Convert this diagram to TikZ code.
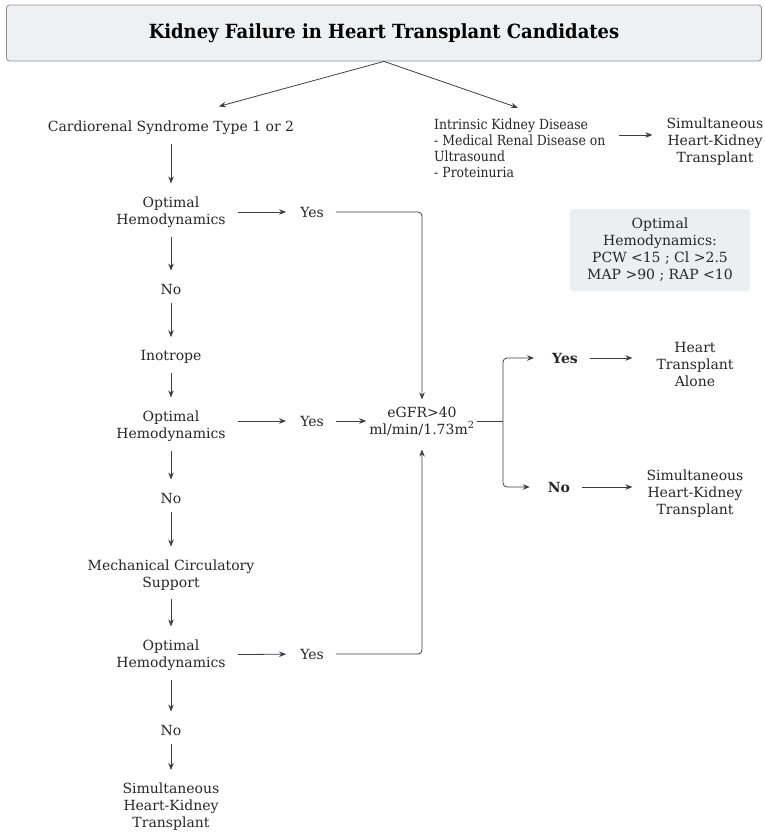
\documentclass[tikz,border=0pt]{standalone}
\usepackage{fontspec}
\setmainfont{DejaVu Serif}
\newfontfamily\headfont[FakeStretch=0.92]{DejaVu Serif}
\newfontfamily\narrowfont[FakeStretch=0.89]{DejaVu Serif}
\usetikzlibrary{arrows.meta}
\definecolor{inkgray}{HTML}{3A3F46}
\definecolor{titlefill}{HTML}{EEF1F3}
\definecolor{titleline}{HTML}{8C9096}
\definecolor{notefill}{HTML}{ECEFF1}

\begin{document}
\begin{tikzpicture}[x=1pt,y=-1pt,
  txt/.style={align=center,inner xsep=12pt,inner ysep=5pt,text=black!85,
    font=\fontsize{14}{17}\selectfont},
  bold/.style={txt,font=\bfseries\fontsize{14}{17}\selectfont},
  flow/.style={-{Stealth[length=7pt,width=5.5pt]},inkgray,line width=0.8pt,
    shorten >=2pt},
  down/.style={flow,shorten <=4pt,shorten >=8pt},
  plain/.style={inkgray,line width=0.8pt}]
\useasboundingbox (0,0) rectangle (765,838);

% heading
\node[draw=titleline,fill=titlefill,rounded corners=3pt,line width=0.8pt,
  minimum width=755pt,minimum height=56pt,
  font=\headfont\bfseries\fontsize{19.5}{22}\selectfont] (title) at (384,33)
  {Kidney Failure in Heart Transplant Candidates};

% left column
\node[txt] (cardio) at (171,128) {Cardiorenal Syndrome Type 1 or 2};
\node[txt] (opt1) at (171,212) {Optimal\\Hemodynamics};
\node[txt] (no1) at (171,289) {No};
\node[txt] (ino) at (171,357) {Inotrope};
\node[txt] (opt2) at (171,426) {Optimal\\Hemodynamics};
\node[txt] (no2) at (171,498) {No};
\node[txt] (mcs) at (171,575) {Mechanical Circulatory\\Support};
\node[txt] (opt3) at (171,655) {Optimal\\Hemodynamics};
\node[txt] (no3) at (171,730) {No};
\node[txt] (shk1) at (171,807) {Simultaneous\\Heart-Kidney\\Transplant};

% yes answers
\node[txt] (yes1) at (312,212) {Yes};
\node[txt] (yes2) at (312,421) {Yes};
\node[txt] (yes3) at (312,654) {Yes};

% kidney function
\node[txt] (egfr) at (422,421) {eGFR>40\\ml/min/1.73m\textsuperscript{2}};
\coordinate (fork) at (503,421);
\node[bold] (yesR) at (565,358) {Yes};
\node[bold] (noR) at (559,487) {No};
\node[txt] (hta) at (695,364) {Heart\\Transplant\\Alone};
\node[txt] (shk2) at (695,494) {Simultaneous\\Heart-Kidney\\Transplant};

% intrinsic branch
\node[txt,align=left,anchor=west,inner xsep=0pt,
  font=\narrowfont\fontsize{14}{16}\selectfont] (intr) at (434,148)
  {Intrinsic Kidney Disease\\- Medical Renal Disease on\\Ultrasound\\- Proteinuria};
\node[txt] (shk3) at (715,142) {Simultaneous\\Heart-Kidney\\Transplant};

% criteria note
\node[fill=notefill,rounded corners=3pt,minimum width=180pt,minimum height=82pt,
  align=center,text=black!85,font=\fontsize{14}{17}\selectfont] (note) at (660,250)
  {Optimal\\Hemodynamics:\\PCW <15 ; Cl >2.5\\MAP >90 ; RAP <10};

% connectors
\draw[flow] (title.south) -- ([xshift=46pt,yshift=9pt]cardio.north);
\draw[flow] (title.south) -- ([yshift=5pt]intr.north);
\draw[flow] ([xshift=13pt,yshift=13pt]intr.east) -- ([yshift=7pt]shk3.west);
\draw[down] (cardio) -- (opt1);
\draw[down] (opt1) -- (no1);
\draw[down] (no1) -- (ino);
\draw[down] (ino) -- (opt2);
\draw[down] (opt2) -- (no2);
\draw[down] (no2) -- (mcs);
\draw[down] (mcs) -- (opt3);
\draw[down] (opt3) -- (no3);
\draw[down] (no3) -- (shk1);
\draw[flow] (opt1) -- (yes1);
\draw[flow] (opt2.east |- yes2) -- (yes2);
\draw[flow] (opt3) -- (yes3);
\draw[flow,rounded corners=4pt] (yes1) -| (egfr);
\draw[flow] (yes2) -- ([xshift=11pt]egfr.west);
\draw[flow,rounded corners=4pt,shorten >=9pt] (yes3) -| (egfr);
\draw[plain] ([xshift=-10pt]egfr.east) -- (fork);
\draw[flow,rounded corners=4pt,shorten >=6pt] (fork) |- (yesR);
\draw[flow,rounded corners=4pt,shorten >=6pt] (fork) |- (noR);
\draw[flow] (yesR) -- (yesR -| shk2.west);
\draw[flow] (noR) -- (noR -| shk2.west);
\end{tikzpicture}
\end{document}
